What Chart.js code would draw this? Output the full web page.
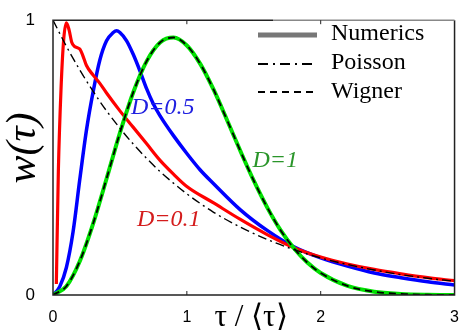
<!DOCTYPE html>
<html>
<head>
<meta charset="utf-8">
<script src="https://cdn.jsdelivr.net/npm/chart.js@4/dist/chart.umd.min.js"></script>
<style>
  body { margin: 0; background: #fff; }
  canvas { display: block; }
</style>
</head>
<body>
<canvas id="grafico" width="464" height="332"></canvas>
<script>
// valores
const tauPoisson = [0, 0.1, 0.2, 0.3, 0.4, 0.5, 0.6, 0.7, 0.8, 0.9, 1.0, 1.2, 1.4, 1.6, 1.8, 2.0, 2.2, 2.4, 2.6, 2.8, 3.0];
const wPoisson = [1.0, 0.905, 0.819, 0.741, 0.670, 0.607, 0.549, 0.497, 0.449, 0.407, 0.368, 0.301, 0.247, 0.202, 0.165, 0.135, 0.111, 0.091, 0.074, 0.061, 0.050];

const tauWigner = [0, 0.1, 0.2, 0.3, 0.4, 0.5, 0.6, 0.7, 0.8, 0.9, 1.0, 1.1, 1.2, 1.3, 1.4, 1.5, 1.6, 1.7, 1.8, 1.9, 2.0, 2.2, 2.4, 2.6, 2.8, 3.0];
const wWigner = [0, 0.032, 0.123, 0.260, 0.423, 0.590, 0.738, 0.851, 0.919, 0.937, 0.908, 0.841, 0.747, 0.637, 0.524, 0.416, 0.319, 0.236, 0.170, 0.118, 0.080, 0.033, 0.012, 0.004, 0.001, 0.0];

const tauD1 = [0, 0.1, 0.2, 0.3, 0.4, 0.5, 0.6, 0.7, 0.8, 0.9, 1.0, 1.1, 1.2, 1.3, 1.4, 1.5, 1.6, 1.7, 1.8, 1.9, 2.0, 2.2, 2.4, 2.6, 2.8, 3.0];
const wD1 = [0, 0.032, 0.123, 0.260, 0.423, 0.590, 0.738, 0.851, 0.919, 0.937, 0.908, 0.841, 0.747, 0.637, 0.524, 0.416, 0.319, 0.236, 0.170, 0.118, 0.080, 0.033, 0.012, 0.004, 0.001, 0.0];

const tauD05 = [0, 0.05, 0.1, 0.15, 0.2, 0.25, 0.3, 0.35, 0.4, 0.45, 0.475, 0.5, 0.55, 0.6, 0.65, 0.7, 0.75, 0.8, 0.9, 1.0, 1.1, 1.2, 1.4, 1.6, 1.8, 2.0, 2.2, 2.4, 2.6, 2.8, 3.0];
const wD05 = [0, 0.03, 0.10, 0.23, 0.42, 0.60, 0.74, 0.855, 0.925, 0.955, 0.962, 0.955, 0.925, 0.875, 0.815, 0.75, 0.695, 0.652, 0.58, 0.515, 0.455, 0.405, 0.31, 0.235, 0.175, 0.135, 0.105, 0.08, 0.063, 0.048, 0.036];

const tauD01 = [0.025, 0.04, 0.06, 0.08, 0.1, 0.12, 0.14, 0.16, 0.18, 0.2, 0.22, 0.25, 0.3, 0.35, 0.4, 0.5, 0.6, 0.7, 0.8, 0.9, 1.0, 1.2, 1.4, 1.6, 1.8, 2.0, 2.2, 2.4, 2.6, 2.8, 3.0];
const wD01 = [0.04, 0.45, 0.75, 0.93, 0.99, 0.965, 0.92, 0.905, 0.90, 0.895, 0.875, 0.835, 0.80, 0.77, 0.735, 0.67, 0.61, 0.55, 0.49, 0.44, 0.395, 0.335, 0.275, 0.22, 0.172, 0.138, 0.113, 0.093, 0.077, 0.063, 0.052];

const ticksX = [0, 1, 2, 3];
const ticksY = [0, 1];

function pontos(xs, ys) {
  return xs.map((x, i) => ({ x: x, y: ys[i] }));
}

function serie(label, xs, ys, cor, largura, dash) {
  return {
    label: label,
    data: pontos(xs, ys),
    borderColor: cor,
    borderWidth: largura,
    borderDash: dash || [],
    pointRadius: 0,
    fill: false,
    cubicInterpolationMode: "monotone"
  };
}

// moldura, ticks internos, rótulos e legenda
const decoracao = {
  id: "decoracao",
  afterDraw(chart) {
    const ctx = chart.ctx;
    const a = chart.chartArea;
    const sx = chart.scales.x;
    const sy = chart.scales.y;
    ctx.save();

    ctx.strokeStyle = "#222";
    ctx.lineWidth = 1.5;
    ctx.beginPath();
    ctx.moveTo(273, a.top);
    ctx.lineTo(a.left, a.top);
    ctx.lineTo(a.left, a.bottom);
    ctx.lineTo(a.right, a.bottom);
    ctx.lineTo(a.right, a.top);
    ctx.stroke();
    // trecho superior sob a legenda, mais claro
    ctx.strokeStyle = "#888";
    ctx.beginPath();
    ctx.moveTo(273, a.top);
    ctx.lineTo(a.right, a.top);
    ctx.stroke();

    ctx.strokeStyle = "#222";
    ctx.lineWidth = 1;
    [1, 2].forEach(v => {
      const px = sx.getPixelForValue(v);
      ctx.beginPath();
      ctx.moveTo(px, a.bottom);
      ctx.lineTo(px, a.bottom - 4);
      ctx.moveTo(px, a.top);
      ctx.lineTo(px, a.top + 4);
      ctx.stroke();
    });

    // rótulos das curvas
    ctx.font = "italic 24px 'Liberation Serif'";
    ctx.textAlign = "center";
    ctx.textBaseline = "middle";
    ctx.fillStyle = "#2020e0";
    ctx.fillText("D=0.5", sx.getPixelForValue(0.82), sy.getPixelForValue(0.68));
    ctx.fillStyle = "#d41c1c";
    ctx.fillText("D=0.1", sx.getPixelForValue(0.864), sy.getPixelForValue(0.274));
    ctx.fillStyle = "#2a952a";
    ctx.fillText("D=1", sx.getPixelForValue(1.66), sy.getPixelForValue(0.488));

    // títulos dos eixos
    ctx.fillStyle = "#000";
    ctx.font = "31px 'Liberation Serif'";
    ctx.fillText("τ / ⟨τ⟩", 251, 318);
    ctx.save();
    ctx.translate(24, 148);
    ctx.rotate(-Math.PI / 2);
    ctx.font = "italic 42px 'Liberation Serif'";
    ctx.fillText("w(τ)", 0, 0);
    ctx.restore();

    // legenda
    const x0 = 258, x1 = 317;
    ctx.lineCap = "butt";
    ctx.strokeStyle = "#777";
    ctx.lineWidth = 5;
    ctx.beginPath();
    ctx.moveTo(x0, 35);
    ctx.lineTo(x1, 35);
    ctx.stroke();

    ctx.strokeStyle = "#000";
    ctx.lineWidth = 1.8;
    ctx.setLineDash([10, 5, 2, 5]);
    ctx.beginPath();
    ctx.moveTo(x0, 64);
    ctx.lineTo(x1, 64);
    ctx.stroke();

    ctx.setLineDash([7, 5]);
    ctx.beginPath();
    ctx.moveTo(x0, 92);
    ctx.lineTo(x1, 92);
    ctx.stroke();
    ctx.setLineDash([]);

    ctx.font = "24px 'Liberation Serif'";
    ctx.textAlign = "left";
    ctx.fillText("Numerics", 331, 34);
    ctx.fillText("Poisson", 331, 63);
    ctx.fillText("Wigner", 331, 92);

    ctx.restore();
  }
};

new Chart(document.getElementById("grafico"), {
  type: "line",
  data: {
    datasets: [
      serie("Wigner", tauWigner, wWigner, "#000", 1.8, [7, 5]),
      serie("Poisson", tauPoisson, wPoisson, "#000", 1.4, [9, 4, 2, 4]),
      serie("D=1", tauD1, wD1, "#00e000", 4),
      serie("D=0.1", tauD01, wD01, "#ff0000", 3.2),
      serie("D=0.5", tauD05, wD05, "#0000ff", 3.5)
    ]
  },
  options: {
    responsive: false,
    animation: false,
    layout: { padding: { left: 0, right: 8, top: 14, bottom: 0 } },
    plugins: {
      legend: { display: false },
      tooltip: { enabled: false }
    },
    scales: {
      x: {
        type: "linear",
        min: 0,
        max: 3,
        afterFit: s => { s.height = 37; },
        afterBuildTicks: s => { s.ticks = ticksX.map(v => ({ value: v })); },
        grid: { display: false },
        border: { display: false },
        ticks: {
          padding: 5,
          color: "#000",
          font: { family: "'Liberation Sans'", size: 16 }
        }
      },
      y: {
        type: "linear",
        min: 0,
        max: 1,
        afterFit: s => { s.width = 53; },
        afterBuildTicks: s => { s.ticks = ticksY.map(v => ({ value: v })); },
        grid: { display: false },
        border: { display: false },
        ticks: {
          padding: 10,
          color: "#000",
          font: { family: "'Liberation Sans'", size: 17 }
        }
      }
    }
  },
  plugins: [decoracao]
});
</script>
</body>
</html>
